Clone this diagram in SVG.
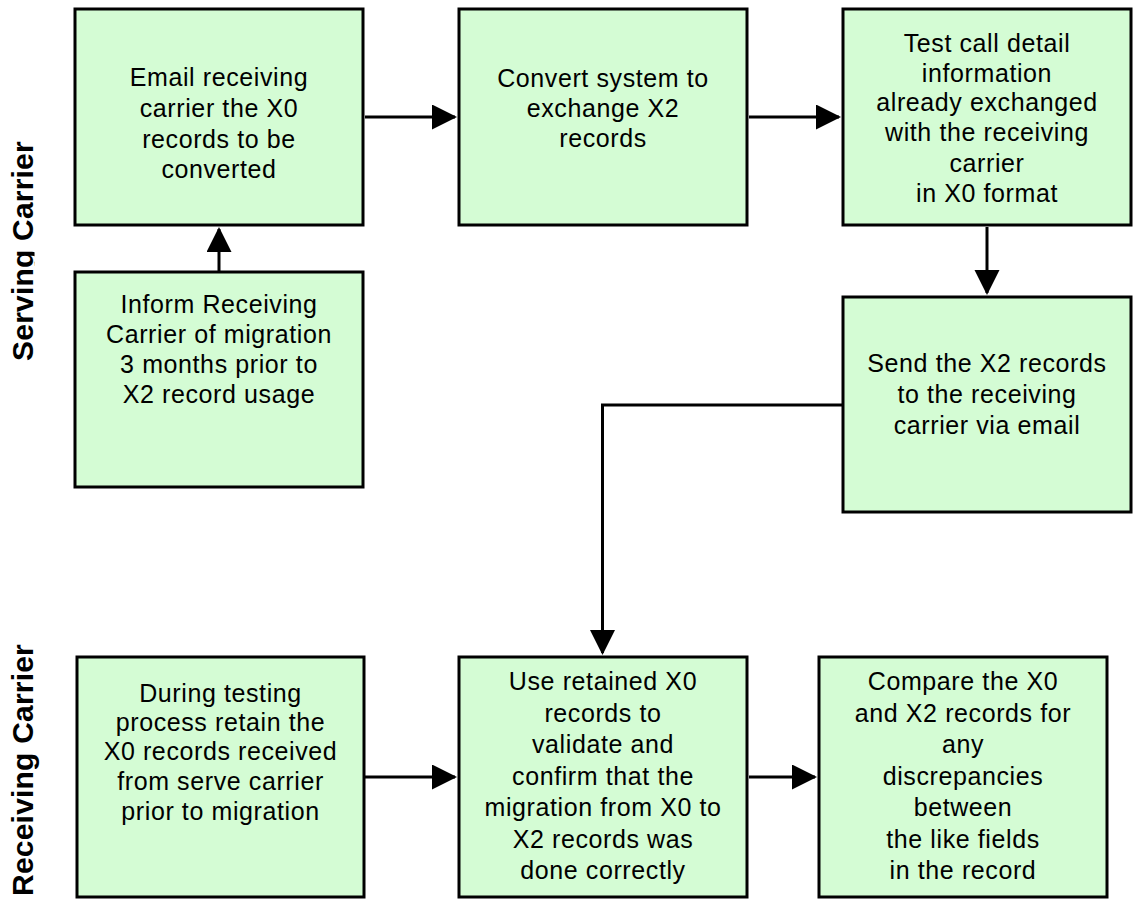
<svg xmlns="http://www.w3.org/2000/svg" width="1134" height="899" viewBox="0 0 1134 899">
<style>
.box{fill:#D4FCD4;stroke:#000;stroke-width:3}
.t{font-family:"Liberation Sans",Arial,sans-serif;font-size:25px;letter-spacing:0.6px;text-anchor:middle;fill:#000}
.lbl{font-family:"Liberation Sans",Arial,sans-serif;font-size:30px;font-weight:bold;letter-spacing:0.2px;text-anchor:middle;fill:#000}
.c{fill:none;stroke:#000;stroke-width:3}
</style>
<defs>
<marker id="ah" markerUnits="userSpaceOnUse" markerWidth="26" markerHeight="26" refX="23" refY="12.5" orient="auto">
<path d="M0,0 L25,12.5 L0,25 Z" fill="#000"/>
</marker>
<clipPath id="clipServ"><rect x="0" y="0" width="34.5" height="400"/></clipPath>
</defs>
<rect width="1134" height="899" fill="#fff"/>
<g id="lane-labels">
<g clip-path="url(#clipServ)"><text class="lbl" transform="translate(33,251) rotate(-90)">Serving Carrier</text></g>
<text class="lbl" transform="translate(33,770) rotate(-90)">Receiving Carrier</text>
</g>
<g id="connectors">
<line class="c" x1="219" y1="271" x2="219" y2="229" marker-end="url(#ah)"/>
<line class="c" x1="365" y1="117" x2="455" y2="117" marker-end="url(#ah)"/>
<line class="c" x1="749" y1="117" x2="839" y2="117" marker-end="url(#ah)"/>
<line class="c" x1="987" y1="227" x2="987" y2="293" marker-end="url(#ah)"/>
<polyline class="c" points="842,405 602.5,405 602.5,653" marker-end="url(#ah)"/>
<line class="c" x1="365" y1="777" x2="455" y2="777" marker-end="url(#ah)"/>
<line class="c" x1="749" y1="777" x2="815" y2="777" marker-end="url(#ah)"/>
</g>
<g id="email">
<rect class="box" x="75" y="9" width="288" height="216"/>
<text class="t" x="219"><tspan x="219" y="86">Email receiving</tspan><tspan x="219" y="117">carrier the X0</tspan><tspan x="219" y="148">records to be</tspan><tspan x="219" y="178">converted</tspan></text>
</g>
<g id="inform">
<rect class="box" x="75" y="272" width="288" height="215"/>
<text class="t"><tspan x="219" y="313">Inform Receiving</tspan><tspan x="219" y="343">Carrier of migration</tspan><tspan x="219" y="373">3 months prior to</tspan><tspan x="219" y="403">X2 record usage</tspan></text>
</g>
<g id="convert">
<rect class="box" x="459" y="9" width="288" height="216"/>
<text class="t"><tspan x="603" y="87">Convert system to</tspan><tspan x="603" y="117">exchange X2</tspan><tspan x="603" y="147">records</tspan></text>
</g>
<g id="test">
<rect class="box" x="843" y="9" width="288" height="216"/>
<text class="t"><tspan x="987" y="52">Test call detail</tspan><tspan x="987" y="82">information</tspan><tspan x="987" y="111">already exchanged</tspan><tspan x="987" y="141">with the receiving</tspan><tspan x="987" y="172">carrier</tspan><tspan x="987" y="202">in X0 format</tspan></text>
</g>
<g id="send">
<rect class="box" x="843" y="297" width="288" height="215"/>
<text class="t"><tspan x="987" y="372">Send the X2 records</tspan><tspan x="987" y="403">to the receiving</tspan><tspan x="987" y="434">carrier via email</tspan></text>
</g>
<g id="during">
<rect class="box" x="77" y="657" width="287" height="240"/>
<text class="t"><tspan x="220.5" y="702">During testing</tspan><tspan x="220.5" y="731">process retain the</tspan><tspan x="220.5" y="760">X0 records received</tspan><tspan x="220.5" y="790">from serve carrier</tspan><tspan x="220.5" y="820">prior to migration</tspan></text>
</g>
<g id="use">
<rect class="box" x="459" y="657" width="288" height="240"/>
<text class="t"><tspan x="603" y="690">Use retained X0</tspan><tspan x="603" y="722">records to</tspan><tspan x="603" y="753">validate and</tspan><tspan x="603" y="785">confirm that the</tspan><tspan x="603" y="816">migration from X0 to</tspan><tspan x="603" y="848">X2 records was</tspan><tspan x="603" y="879">done correctly</tspan></text>
</g>
<g id="compare">
<rect class="box" x="819" y="657" width="288" height="240"/>
<text class="t"><tspan x="963" y="690">Compare the X0</tspan><tspan x="963" y="722">and X2 records for</tspan><tspan x="963" y="753">any</tspan><tspan x="963" y="785">discrepancies</tspan><tspan x="963" y="816">between</tspan><tspan x="963" y="848">the like fields</tspan><tspan x="963" y="879">in the record</tspan></text>
</g>
</svg>
